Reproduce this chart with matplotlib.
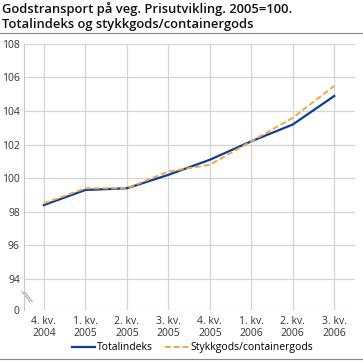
import matplotlib.pyplot as plt
from matplotlib.lines import Line2D

# Data
quarters = ['4. kv.\n2004', '1. kv.\n2005', '2. kv.\n2005', '3. kv.\n2005',
            '4. kv.\n2005', '1. kv.\n2006', '2. kv.\n2006', '3. kv.\n2006']
totalindeks = [98.4, 99.3, 99.4, 100.2, 101.1, 102.2, 103.2, 104.9]
stykkgods = [98.5, 99.4, 99.4, 100.4, 100.8, 102.2, 103.6, 105.5]
ytick_vals = [94, 96, 98, 100, 102, 104, 106, 108]

plt.rcParams['font.family'] = ['Open Sans', 'DejaVu Sans']

fig = plt.figure(figsize=(3.63, 3.63), dpi=100)
ax = fig.add_axes([0.066, 0.146, 0.912, 0.733])

# axis break: "0" placed just below 94
zero_pos = 92.15
x = list(range(len(quarters)))

ax.plot(x, totalindeks, color='#0b3d9b', lw=1.6, label='Totalindeks', zorder=3)
ax.plot(x, stykkgods, color='#f7a541', lw=1.4, ls=(0, (3, 1.5)),
        label='Stykkgods/containergods', zorder=4)

ax.set_xlim(-0.48, 7.5)
ax.set_ylim(zero_pos, 108)
ax.set_yticks(ytick_vals + [zero_pos])
ax.set_yticklabels([str(v) for v in ytick_vals] + ['0'])
ax.set_xticks(x)
ax.set_xticklabels(quarters)

ax.grid(True, color='#d4d4d4', lw=0.9)
ax.set_axisbelow(True)
for s in ['top', 'right', 'bottom']:
    ax.spines[s].set_visible(False)
ax.spines['left'].set_color('#c8c8c8')
ax.tick_params(length=0, labelsize=7.5, colors='#333333', pad=3)
ax.tick_params(axis='x', pad=4)

# break marks
ax.add_line(Line2D([-0.53, -0.34], [93.25, 92.66], color='#aaaaaa', lw=0.8, clip_on=False))
ax.add_line(Line2D([-0.47, -0.28], [93.25, 92.66], color='#aaaaaa', lw=0.8, clip_on=False))

# title, two lines
fig.text(0.005, 0.963, 'Godstransport på veg. Prisutvikling. 2005=100.',
         fontsize=9.4, fontweight='semibold', va='baseline', ha='left', color='#111111')
fig.text(0.005, 0.922, 'Totalindeks og stykkgods/containergods',
         fontsize=9.4, fontweight='semibold', va='baseline', ha='left', color='#111111')
fig.add_artist(Line2D([0, 1], [0.909, 0.909], color='#888888', lw=0.8))
fig.add_artist(Line2D([0, 1], [0.01, 0.01], color='#888888', lw=0.8))

fig.legend(loc='center', bbox_to_anchor=(0.53, 0.042), ncol=2, frameon=False,
           fontsize=7.5, handlelength=2.2, handletextpad=0.2, columnspacing=1.2)

fig.savefig('out.png', dpi=100)
